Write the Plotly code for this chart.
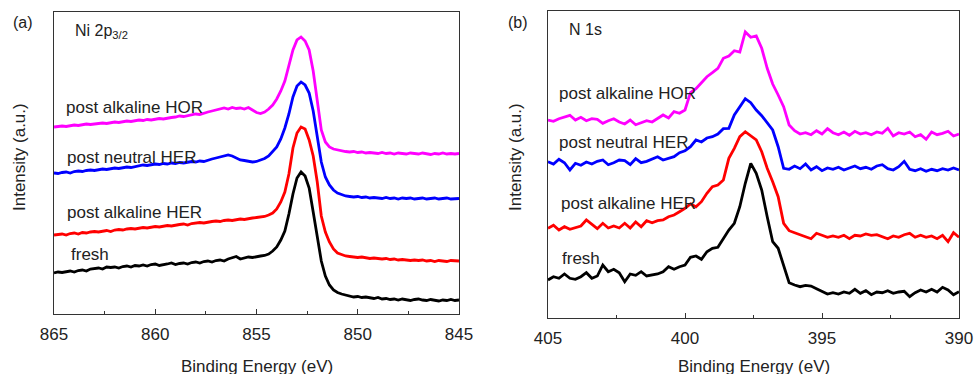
import numpy as np
import plotly.graph_objects as go

W, H = 974, 374

# Binding-energy grids (eV), 0.2 eV steps
E_NI = np.round(865.0 - 0.2 * np.arange(101), 1)
E_N = np.round(405.0 - 0.2 * np.arange(76), 1)

# ---- Ni 2p3/2 spectra (stacked, a.u.) ----
ni_fresh = [
    41, 42, 41.5, 42.5, 43, 42, 43.5, 44, 43, 45,
    45.5, 46, 45, 47, 46.5, 47, 46, 47.5, 48, 47,
    48.5, 48, 49, 48, 49.5, 50, 48.5, 49, 50, 51,
    49.5, 50.5, 51, 50, 51.5, 52, 51, 52.5, 53, 52,
    53.5, 54, 53, 55, 56, 57.5, 55, 56, 57, 56.5,
    57.5, 58, 58.5, 60, 63, 67, 74, 83, 100, 120,
    136, 142, 138, 126, 102, 76, 53, 38, 29, 24,
    21.5, 20, 19, 18.5, 17, 17.5, 16.5, 17, 16, 15.5,
    16.5, 15, 15.5, 14.5, 15, 14, 15, 14.5, 13.5, 14.5,
    15, 14, 13.5, 14.5, 14, 13, 14, 13.5, 14.5, 13.5,
    14,
]
ni_alk_her = [
    79, 79.5, 80, 79, 80.5, 81, 80, 81.5, 81, 82,
    82.5, 82, 83, 83.5, 82.5, 84, 84.5, 84, 85, 85.5,
    85, 86, 86.5, 86, 87, 87.5, 87, 88, 88.5, 88,
    89, 89.5, 90, 89, 90.5, 91, 91.5, 91, 92, 92.5,
    93, 92.5, 93.5, 94, 93.5, 94.5, 95, 94.5, 95.5, 96,
    96.5, 97, 97.5, 99, 101, 105, 112, 122, 140, 166,
    181, 187, 185, 174, 158, 132, 98, 82, 72, 65,
    61, 59.5, 58, 57.5, 57, 56.5, 57, 56, 55.5, 56,
    55.5, 55, 55.5, 54.5, 55, 54, 54.5, 54, 53.5, 54,
    53.5, 54, 53, 53.5, 52.5, 53.5, 53, 52.5, 53.5, 53,
    53,
]
ni_neu_her = [
    141, 140.5, 141.5, 142, 141, 142.5, 143, 142.5, 143.5, 144,
    143.5, 144, 145, 144.5, 145.5, 146, 145.5, 146.5, 147, 146.5,
    147.5, 148, 149, 148.5, 149, 150, 149.5, 150.5, 150, 151,
    150.5, 151.5, 151, 152, 152.5, 152, 153, 152.5, 154, 155,
    156, 157, 158.5, 159, 158, 156, 154, 153.5, 152.5, 152,
    152.5, 154, 155.5, 158, 162, 167, 175, 186, 200, 217,
    228, 232, 229, 221, 203, 178, 152, 137, 129, 124,
    121, 119.5, 118, 117.5, 117, 117.5, 116.5, 117, 116, 116.5,
    116, 115.5, 116.5, 115.5, 116, 115, 116, 115.5, 116, 115,
    115.5, 116, 115, 115.5, 116, 115, 115.5, 116, 115, 115.5,
    115.5,
]
ni_alk_hor = [
    187, 187.5, 188, 187.5, 188.5, 189, 188.5, 189.5, 190, 189.5,
    190, 190.5, 191, 190.5, 191.5, 192, 191.5, 192.5, 193, 192.5,
    193, 194, 193.5, 194.5, 194, 195, 195.5, 195, 196, 196.5,
    197, 198, 197.5, 198.5, 199, 200, 199.5, 201, 202, 203,
    204, 205, 206, 205, 206.5, 205.5, 206, 205, 206.5, 204,
    201.5, 200.5, 202, 205, 209, 215, 223, 233, 248, 264,
    274, 277, 273, 264, 243, 215, 184, 172, 167, 165,
    164, 163, 162.5, 162, 162.5, 161.5, 162, 161, 161.5, 161,
    160.5, 161.5, 160.5, 161, 160, 161, 160.5, 160, 161, 160.5,
    160, 161, 160.5, 159.5, 160.5, 160, 161, 160, 160.5, 160,
    160.5,
]

# ---- N 1s spectra (stacked, a.u.) ----
n_fresh = [
    38, 41.3, 39.7, 44, 39.7, 38.7, 41.3, 45.3, 39.7, 42,
    53, 46.3, 48.7, 45.3, 36.3, 44, 42.7, 46.3, 42, 43.3,
    44, 46.3, 51.3, 48.7, 51.3, 53, 60.7, 62, 58.7, 66.3,
    69.7, 70.7, 79.7, 88, 94.7, 111.3, 134.7, 154.7, 144.7, 128,
    101.3, 76.3, 69.7, 51.3, 35.3, 33, 31.3, 32.7, 32, 29.3,
    26.3, 24, 25.3, 24, 26, 24.7, 28.7, 24.7, 27.3, 23.3,
    26, 25.3, 27.3, 24.7, 26, 26.7, 21.3, 25.3, 28, 26,
    28.7, 26, 30.7, 28, 23.3, 26.3,
]
n_alk_her = [
    89.7, 92.7, 88, 91.3, 88.7, 90, 92, 98, 94, 89.3,
    94.7, 90, 92, 90, 94.7, 90, 96, 91.3, 97.3, 95.3,
    97.3, 98, 101.3, 103, 106.3, 109.7, 114, 111.3, 116.3, 124.7,
    131.3, 133, 138, 159.7, 169.7, 181.3, 186.3, 182, 178, 166.3,
    149.7, 136.3, 121.3, 94.7, 87.3, 85.3, 83, 81.3, 79.3, 84.7,
    82.7, 80.7, 82, 80.7, 82.7, 79.3, 82.7, 82, 84, 82.7,
    83.3, 81.3, 79.3, 82, 80.7, 83.3, 84.7, 80.7, 82.7, 80.7,
    82, 79.3, 82.7, 76.3, 85.3, 80.7,
]
n_neu_her = [
    156.3, 154, 158.7, 155.3, 148, 154.7, 152.7, 156, 154, 156.7,
    158, 153.3, 155.3, 158, 157.3, 153.3, 159.3, 155.3, 156.7, 158.7,
    161.3, 158, 160, 161.3, 165.3, 167.3, 171.3, 178, 176, 180,
    181.3, 184, 189.3, 189.7, 203, 210.7, 219.3, 215.3, 208, 202.3,
    195.3, 188, 171.3, 149.7, 148.7, 152, 149.3, 154, 148, 151.3,
    147.3, 150, 148.7, 150.7, 148, 150, 152, 149.3, 150.7, 148.7,
    152, 153.3, 149.3, 148, 151.3, 156.7, 148.7, 147.3, 149.3, 146.7,
    148.7, 147.3, 149.3, 148, 150, 148,
]
n_alk_hor = [
    198, 196.7, 199.3, 201.3, 202.7, 198, 200.7, 197.3, 199.3, 198.7,
    194.7, 197.3, 199.3, 196, 194, 198, 193.3, 195.3, 197.3, 196,
    199.3, 203, 200, 206.3, 204.7, 208, 225.3, 229.3, 235.3, 241.3,
    245.3, 249.7, 259.7, 262, 267.3, 266, 286, 280.7, 282, 269.7,
    249.7, 234, 223, 211.3, 193, 187.3, 184, 185.3, 183.3, 187.3,
    184, 189.3, 185.3, 183.3, 186, 182.7, 186.7, 184, 185.3, 183.3,
    186, 184.7, 189.7, 182, 185.3, 184, 186, 181.3, 183.3, 178.7,
    186, 183.3, 184.7, 186.7, 182, 184,
]

LABELS = ["fresh", "post alkaline HER", "post neutral HER", "post alkaline HOR"]
COLORS = ["#000000", "#ff0000", "#0000ff", "#ff00ff"]
NI_SERIES = [ni_fresh, ni_alk_her, ni_neu_her, ni_alk_hor]
N_SERIES = [n_fresh, n_alk_her, n_neu_her, n_alk_hor]

FONT = "Liberation Sans, Arial, sans-serif"
TXT = "#222222"
AX = "#333333"


def fx(px):
    return px / W


def fy(py):
    return 1 - py / H


fig = go.Figure()
for name, col, ys in zip(LABELS, COLORS, NI_SERIES):
    fig.add_trace(go.Scatter(x=E_NI, y=ys, mode="lines", name=name,
                             line=dict(color=col, width=2.8),
                             xaxis="x", yaxis="y", showlegend=False))
for name, col, ys in zip(LABELS, COLORS, N_SERIES):
    fig.add_trace(go.Scatter(x=E_N, y=ys, mode="lines", name=name,
                             line=dict(color=col, width=2.8),
                             xaxis="x2", yaxis="y2", showlegend=False))

xcommon = dict(showline=True, linecolor=AX, linewidth=1.4, mirror=True,
               ticks="inside", ticklen=5, tickwidth=1.2, tickcolor=AX,
               showgrid=False, zeroline=False, dtick=5, automargin=False,
               tickfont=dict(family=FONT, size=17, color=TXT),
               minor=dict(dtick=2.5, ticks="inside", ticklen=3,
                          tickcolor=AX, showgrid=False),
               ticklabelstandoff=4)
ycommon = dict(showline=True, linecolor=AX, linewidth=1.4, mirror=True,
               ticks="", showticklabels=False, showgrid=False,
               zeroline=False, automargin=False)

fig.update_layout(
    width=W, height=H,
    margin=dict(l=0, r=0, t=0, b=0, pad=0, autoexpand=False),
    paper_bgcolor="white", plot_bgcolor="white",
    xaxis=dict(xcommon, domain=[fx(54), fx(459)], range=[865, 845],
               anchor="y"),
    yaxis=dict(ycommon, domain=[fy(314), fy(12)], range=[0, 302],
               anchor="x"),
    xaxis2=dict(xcommon, domain=[fx(548), fx(959)], range=[405, 390],
                anchor="y2"),
    yaxis2=dict(ycommon, domain=[fy(318), fy(11)], range=[0, 307],
                anchor="x2"),
)


def label(text, px, py, size=17, xanchor="left", angle=0):
    fig.add_annotation(text=text, x=fx(px), y=fy(py), xref="paper",
                       yref="paper", xanchor=xanchor, yanchor="middle",
                       showarrow=False, textangle=angle,
                       font=dict(family=FONT, size=size, color=TXT))


# panel tags and core-level names
label("(a)", 11, 22, size=16)
label("(b)", 506, 22, size=16)
label("Ni 2p<sub>3/2</sub>", 73, 31, size=16)
label("N 1s", 567, 30, size=16)

# series names, panel (a)
label("post alkaline HOR", 64, 107)
label("post neutral HER", 65, 157)
label("post alkaline HER", 65, 213)
label("fresh", 69, 255)

# series names, panel (b)
label("post alkaline HOR", 557, 93)
label("post neutral HER", 557, 142)
label("post alkaline HER", 559, 204)
label("fresh", 560, 258)

# axis titles
label("Binding Energy (eV)", 256.5, 366, xanchor="center")
label("Binding Energy (eV)", 753.5, 366, xanchor="center")
label("Intensity (a.u.)", 19, 157, xanchor="center", angle=-90)
label("Intensity (a.u.)", 515, 157, xanchor="center", angle=-90)

fig.write_html("out.html")
